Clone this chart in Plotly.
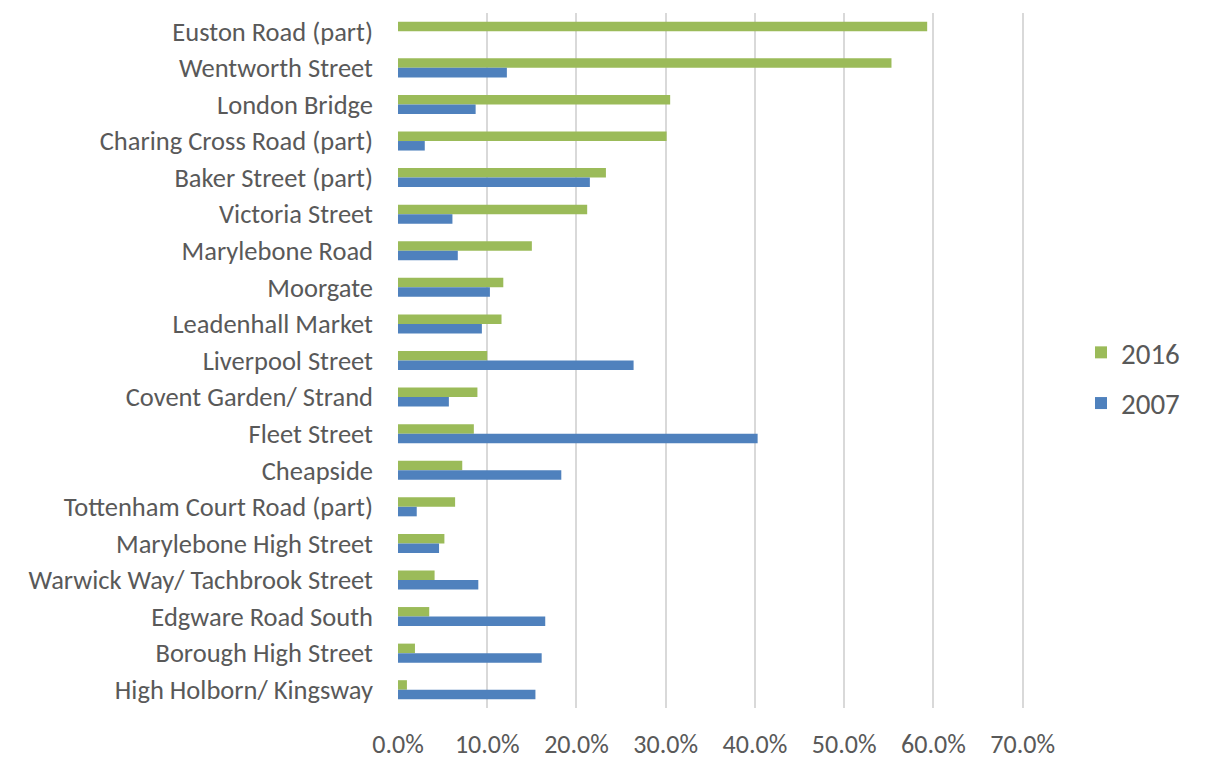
import plotly.graph_objects as go

streets = [
    "Euston Road (part)", "Wentworth Street", "London Bridge", "Charing Cross Road (part)",
    "Baker Street (part)", "Victoria Street", "Marylebone Road", "Moorgate",
    "Leadenhall Market", "Liverpool Street", "Covent Garden/ Strand", "Fleet Street",
    "Cheapside", "Tottenham Court Road (part)", "Marylebone High Street",
    "Warwick Way/ Tachbrook Street", "Edgware Road South", "Borough High Street",
    "High Holborn/ Kingsway",
]
values_2016 = [0.593, 0.553, 0.305, 0.301, 0.233, 0.212, 0.150, 0.118, 0.116, 0.100,
               0.089, 0.085, 0.072, 0.064, 0.052, 0.041, 0.035, 0.019, 0.010]
values_2007 = [0.0, 0.122, 0.087, 0.030, 0.215, 0.061, 0.067, 0.103, 0.094, 0.264,
               0.057, 0.403, 0.183, 0.021, 0.046, 0.090, 0.165, 0.161, 0.154]
x_ticks = [0.0, 0.1, 0.2, 0.3, 0.4, 0.5, 0.6, 0.7]

FONT = "Carlito, Calibri, Lato, sans-serif"
GREY = "#595959"

fig = go.Figure()
fig.add_trace(go.Bar(
    y=streets, x=values_2016, name="2016", orientation="h",
    marker=dict(color="#9BBB59", line=dict(width=0)),
    legendgroup="a",
))
fig.add_trace(go.Bar(
    y=streets, x=values_2007, name="2007", orientation="h",
    marker=dict(color="#4F81BD", line=dict(width=0)),
    legendgroup="b",
))

# the page places the figure 8px in from the top-left corner
OFF = 8
W, H = 1208 - OFF, 772 - OFF
left_px, right_px, top_px, bottom_px = 398, 1024, 13, 708
L = left_px - OFF
T = top_px - OFF
R = W - (right_px - OFF)
B = H - (bottom_px - OFF)
pw, ph = W - L - R, H - T - B

fig.update_layout(
    width=W, height=H,
    margin=dict(l=L, r=R, t=T, b=B, pad=0, autoexpand=False),
    paper_bgcolor="white", plot_bgcolor="white",
    barmode="group", bargap=0.48, bargroupgap=0,
    font=dict(family=FONT, size=26, color=GREY),
    showlegend=True,
    legend=dict(
        x=(1081 - left_px) / pw, y=(bottom_px - 378) / ph, xanchor="left", yanchor="middle",
        font=dict(family=FONT, size=29, color=GREY),
        tracegroupgap=10, bgcolor="rgba(0,0,0,0)",
    ),
    xaxis=dict(
        range=[0, 0.7015], tickvals=x_ticks, tickformat=".1%",
        showgrid=True, gridcolor="#d9d9d9", gridwidth=2,
        zeroline=False, showline=False, ticks="",
        ticklabelstandoff=18,
        tickfont=dict(family=FONT, size=26, color=GREY),
    ),
    yaxis=dict(
        autorange="reversed", type="category",
        showgrid=False, zeroline=False, showline=False, ticks="",
        ticklabelstandoff=24,
        tickfont=dict(family=FONT, size=26.5, color=GREY),
    ),
)

fig.write_html("out.html")
